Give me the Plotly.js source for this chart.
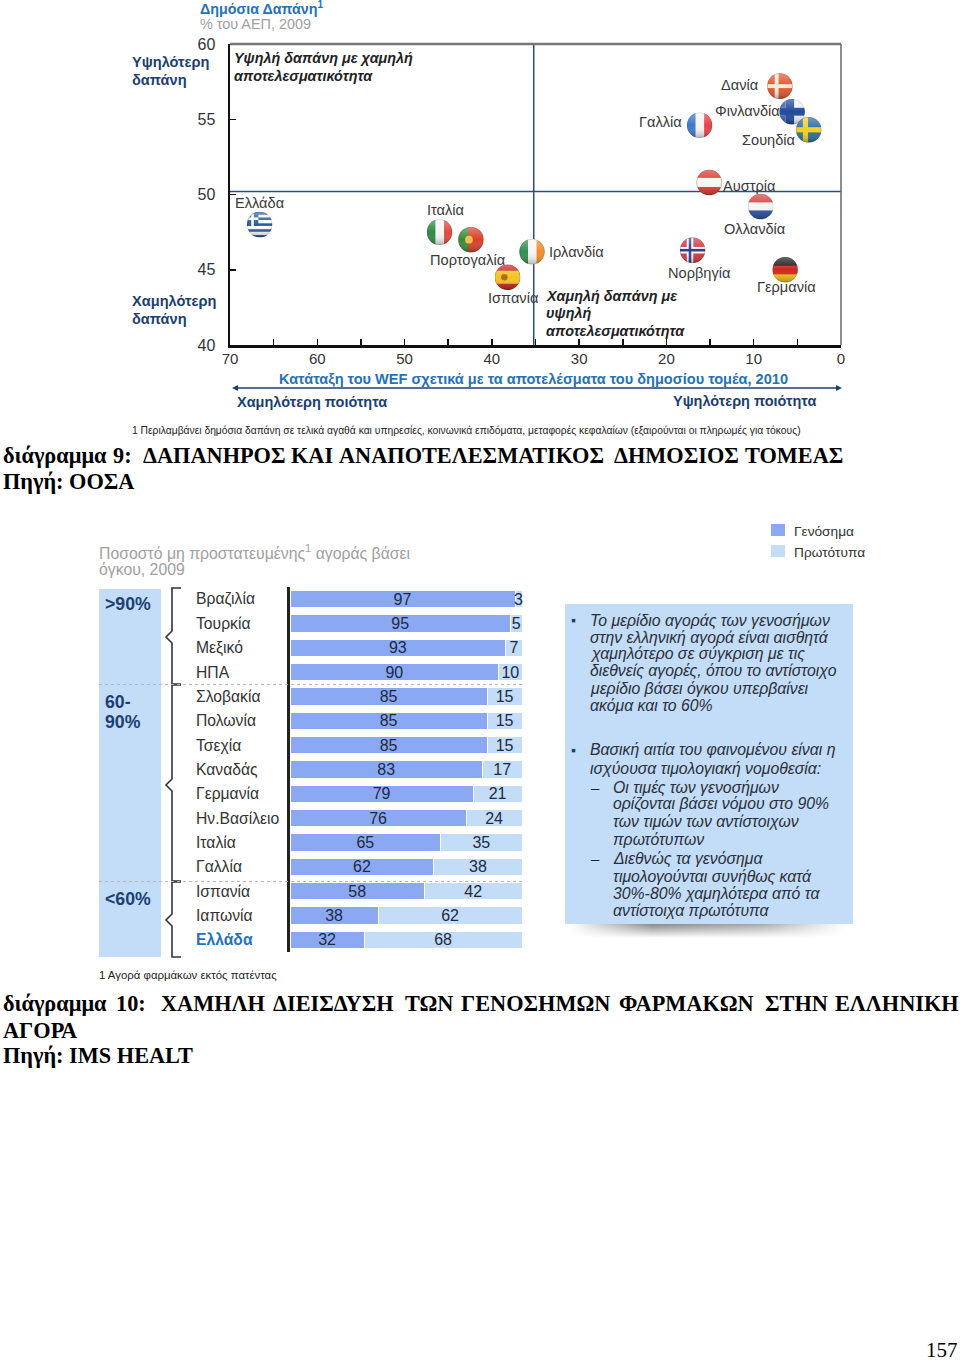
<!DOCTYPE html>
<html><head><meta charset="utf-8">
<script src="https://cdn.plot.ly/plotly-3.0.1.min.js"></script>
<style>html,body{margin:0;padding:0;background:#fff}</style></head>
<body><div id="chart" style="width:960px;height:1362px"></div>
<script>
// ---------- scatter data ----------
const countries = ['Ελλάδα','Ιταλία','Πορτογαλία','Ισπανία','Ιρλανδία','Νορβηγία','Γερμανία','Ολλανδία','Αυστρία','Γαλλία','Δανία','Φινλανδία','Σουηδία'];
const wefRank  = [66.6,46,42.4,38.2,35.4,17,6.4,9.2,15.1,16.2,7,5.6,3.7];
const spending = [48,47.5,47,44.5,46.2,46.3,45,49.2,50.8,54.6,57.2,55.5,54.3];
const baseColors = ['#2f5fa8','#e8e8e8','#3f8a3f','#e8b820','#e8e8e8','#c8383c','#c9261f','#e8e8e8','#e8e8e8','#e8e8e8','#e0502a','#2550a0','#2f6fa8'];
const flagKeys = ['gr','it','pt','es','ie','no','de','nl','at','fr','dk','fi','se'];
const xTickVals = [70,60,50,40,30,20,10,0];
const xTickText = ['70','60','50','40','30','20','10','0'];
const xMinorVals = [65,55,45,35,25,15,5];
const yTickVals = [60,55,50,45,40];
const medianRank = 35.2, medianSpend = 50.2;
// ---------- bar data ----------
const markets = ['Βραζιλία','Τουρκία','Μεξικό','ΗΠΑ','Σλοβακία','Πολωνία','Τσεχία','Καναδάς','Γερμανία','Ην.Βασίλειο','Ιταλία','Γαλλία','Ισπανία','Ιαπωνία','Ελλάδα'];
const generics  = [97,95,93,90,85,85,85,83,79,76,65,62,58,38,32];
const originals = [3,5,7,10,15,15,15,17,21,24,35,38,42,62,68];

const W=960,H=1362;
const px=x=>x/W, py=y=>1-y/H;
const SANS='"Liberation Sans",Arial,sans-serif', SERIF='"Liberation Serif","Times New Roman",serif';
const NAVY='#1c3f73', BLUE='#2472b8', PANEL='#c3dcf7', GEN='#8aa9f2', ORI='#c3dcf7';
const anns=[], shapes=[], images=[];
function T(x,y,text,o={}){anns.push({xref:'paper',yref:'paper',x:px(x),y:py(y),text:text,showarrow:false,xanchor:o.a||'left',yanchor:'middle',align:o.a||'left',
  font:{family:o.f||SANS,size:o.s||14,color:o.c||'#333'},borderpad:0,borderwidth:0,captureevents:false});}
function R(x0,y0,x1,y1,fill){shapes.push({type:'rect',xref:'paper',yref:'paper',x0:px(x0),x1:px(x1),y0:py(y0),y1:py(y1),fillcolor:fill,line:{width:0},layer:'below'});}
function L(x0,y0,x1,y1,c,w,d){shapes.push({type:'line',xref:'paper',yref:'paper',x0:px(x0),x1:px(x1),y0:py(y0),y1:py(y1),line:{color:c,width:w,dash:d||'solid'},layer:'above'});}
function Tri(p,c){shapes.push({type:'path',xref:'paper',yref:'paper',layer:'above',fillcolor:c,line:{width:0},path:'M '+p.map(q=>px(q[0])+' '+py(q[1])).join(' L ')+' Z'});}

// ---------- flags ----------
const flagArt={
 gr:'<rect width="40" height="40" fill="#fff"/><g fill="#2a5aa8"><rect y="0" width="40" height="5"/><rect y="9" width="40" height="4"/><rect y="18" width="40" height="4"/><rect y="27" width="40" height="4"/><rect y="36" width="40" height="4"/><rect width="18" height="22"/></g><rect x="7" width="4" height="22" fill="#fff"/><rect y="9" width="18" height="4" fill="#fff"/>',
 it:'<rect width="14" height="40" fill="#2f8a45"/><rect x="14" width="13" height="40" fill="#f5f5f5"/><rect x="27" width="13" height="40" fill="#e2483d"/>',
 pt:'<rect width="16" height="40" fill="#3a8a3a"/><rect x="16" width="24" height="40" fill="#d8402c"/><circle cx="17" cy="20" r="6" fill="#f0c040"/>',
 es:'<rect width="40" height="40" fill="#c8261c"/><rect y="10" width="40" height="20" fill="#f3c322"/><circle cx="15" cy="20" r="5" fill="#b5651d"/>',
 ie:'<rect width="14" height="40" fill="#2f8f4f"/><rect x="14" width="13" height="40" fill="#f5f5f5"/><rect x="27" width="13" height="40" fill="#f08c2e"/>',
 no:'<rect width="40" height="40" fill="#d03a40"/><rect x="11" width="10" height="40" fill="#fff"/><rect y="15" width="40" height="10" fill="#fff"/><rect x="14" width="4" height="40" fill="#2b3f8c"/><rect y="18" width="40" height="4" fill="#2b3f8c"/>',
 de:'<rect width="40" height="14" fill="#1a1a1a"/><rect y="14" width="40" height="13" fill="#d4261c"/><rect y="27" width="40" height="13" fill="#f2c018"/>',
 nl:'<rect width="40" height="14" fill="#d8403c"/><rect y="14" width="40" height="12" fill="#f5f5f5"/><rect y="26" width="40" height="14" fill="#2a4f9c"/>',
 at:'<rect width="40" height="40" fill="#dc3a32"/><rect y="13" width="40" height="14" fill="#f7f7f7"/>',
 fr:'<rect width="14" height="40" fill="#3d78cc"/><rect x="14" width="13" height="40" fill="#f5f5f5"/><rect x="27" width="13" height="40" fill="#e8404a"/>',
 dk:'<rect width="40" height="40" fill="#e2552e"/><rect x="12" width="6" height="40" fill="#f7ead8"/><rect y="17" width="40" height="6" fill="#f7ead8"/>',
 fi:'<rect width="40" height="40" fill="#eef1f6"/><rect x="10" width="13" height="40" fill="#21489a"/><rect y="14" width="40" height="12" fill="#21489a"/><rect width="10" height="14" fill="#3a5fae"/><rect y="26" width="10" height="14" fill="#3a5fae"/>',
 se:'<rect width="40" height="40" fill="#2c6d9e"/><rect x="11" width="8" height="40" fill="#f2d01e"/><rect y="16" width="40" height="8" fill="#f2d01e"/>'
};
function flagURI(k){
 const s='<svg xmlns="http://www.w3.org/2000/svg" width="80" height="80" viewBox="0 0 40 40"><defs><clipPath id="c"><circle cx="20" cy="20" r="19.5"/></clipPath><linearGradient id="g" x1="0" y1="0" x2="0" y2="1"><stop offset="0" stop-color="#fff" stop-opacity=".35"/><stop offset=".5" stop-color="#fff" stop-opacity="0"/><stop offset="1" stop-color="#000" stop-opacity=".3"/></linearGradient></defs><g clip-path="url(#c)">'+flagArt[k]+'<rect width="40" height="40" fill="url(#g)"/></g><circle cx="20" cy="20" r="19.2" fill="none" stroke="#000" stroke-opacity=".18" stroke-width="1"/></svg>';
 return 'data:image/svg+xml;base64,'+btoa(s);
}
flagKeys.forEach((k,i)=>images.push({source:flagURI(k),xref:'x',yref:'y',x:wefRank[i],y:spending[i],sizex:2.98,sizey:1.74,sizing:'stretch',xanchor:'center',yanchor:'middle',layer:'above'}));

// ---------- top chart text ----------
T(200,8,'<b>Δημόσια Δαπάνη<sup>1</sup></b>',{c:BLUE,s:14.3});
T(200,24,'% του ΑΕΠ, 2009',{c:'#a0a0a0',s:14.4});
T(132,62,'<b>Υψηλότερη</b>',{c:NAVY,s:14.6}); T(132,80,'<b>δαπάνη</b>',{c:NAVY,s:14.6});
T(132,301,'<b>Χαμηλότερη</b>',{c:NAVY,s:14.6}); T(132,319,'<b>δαπάνη</b>',{c:NAVY,s:14.6});
T(234,58,'<b><i>Υψηλή δαπάνη με χαμηλή</i></b>',{c:'#222',s:14.4});
T(234,76,'<b><i>αποτελεσματικότητα</i></b>',{c:'#222',s:14.4});
T(546,296,'<b><i>Χαμηλή δαπάνη με</i></b>',{c:'#222',s:14.4});
T(546,313,'<b><i>υψηλή</i></b>',{c:'#222',s:14.4});
T(546,331,'<b><i>αποτελεσματικότητα</i></b>',{c:'#222',s:14.4});
const labelPos=[[235,203],[427,210],[430,260],[488,298],[549,252],[668,273],[757,287],[724,229],[723,186],[639,122],[721,85],[715,111],[742,140]];
countries.forEach((c,i)=>T(labelPos[i][0],labelPos[i][1],c,{c:'#3a3a3a',s:14.6}));
T(533.5,379,'<b>Κατάταξη του WEF σχετικά με τα αποτελέσματα του δημοσίου τομέα, 2010</b>',{a:'center',c:BLUE,s:14.55});
L(236,388,838,388,NAVY,1.6);
Tri([[232,388],[238,385],[238,391]],NAVY); Tri([[842,388],[836,385],[836,391]],NAVY);
T(237,402,'<b>Χαμηλότερη ποιότητα</b>',{c:NAVY,s:14.5});
T(816,401,'<b>Υψηλότερη ποιότητα</b>',{a:'right',c:NAVY,s:14.5});
T(132,430,'1 Περιλαμβάνει δημόσια δαπάνη σε τελικά αγαθά και υπηρεσίες, κοινωνικά επιδόματα, μεταφορές κεφαλαίων (εξαιρούνται οι πληρωμές για τόκους)',{c:'#222',s:10.3});

// ---------- captions ----------
const capOpt={f:SERIF,c:'#000',s:22.3};
[['διάγραμμα',3],['9:',113],['ΔΑΠΑΝΗΡΟΣ',143],['ΚΑΙ',291],['ΑΝΑΠΟΤΕΛΕΣΜΑΤΙΚΟΣ',339],['ΔΗΜΟΣΙΟΣ',614],['ΤΟΜΕΑΣ',745]].forEach(w=>T(w[1],456,'<b>'+w[0]+'</b>',capOpt));
T(3,482,'<b>Πηγή: ΟΟΣΑ</b>',capOpt);
[['διάγραμμα',3],['10:',116],['ΧΑΜΗΛΗ',161],['ΔΙΕΙΣΔΥΣΗ',273],['ΤΩΝ',405],['ΓΕΝΟΣΗΜΩΝ',461],['ΦΑΡΜΑΚΩΝ',619],['ΣΤΗΝ',765],['ΕΛΛΗΝΙΚΗ',835]].forEach(w=>T(w[1],1004,'<b>'+w[0]+'</b>',capOpt));
T(3,1030,'<b>ΑΓΟΡΑ</b>',capOpt);
T(3,1055,'<b>Πηγή: IMS HEALT</b>',capOpt);
T(958,1349.5,'157',{a:'right',f:SERIF,c:'#000',s:21});

// ---------- bar panel decorations ----------
T(99,552,'Ποσοστό μη προστατευμένης<sup>1</sup> αγοράς βάσει',{c:'#a0a0a0',s:15.8});
T(99,570,'όγκου, 2009',{c:'#a0a0a0',s:15.8});
R(99,589,161,957,PANEL);
T(105,604,'<b>&gt;90%</b>',{c:NAVY,s:17.7});
T(105,702,'<b>60-</b>',{c:NAVY,s:17.7});
T(105,722,'<b>90%</b>',{c:NAVY,s:17.7});
T(105,899,'<b>&lt;60%</b>',{c:NAVY,s:17.7});
function brace(y0,tip,y1){shapes.push({type:'path',xref:'paper',yref:'paper',layer:'above',line:{color:'#333',width:1.6},
 path:`M ${px(181)} ${py(y0)} L ${px(172)} ${py(y0)} L ${px(172)} ${py(tip-6)} L ${px(166)} ${py(tip)} L ${px(172)} ${py(tip+6)} L ${px(172)} ${py(y1)} L ${px(181)} ${py(y1)}`});}
brace(588,637,684); brace(685,785,881); brace(882,920,957);
L(99,684.5,525,684.5,'#b8b8b8',1.2,'dot'); L(99,881.5,525,881.5,'#b8b8b8',1.2,'dot');
markets.forEach((m,i)=>anns.push({xref:'paper',yref:'y2',x:px(196),y:i,text:i===14?'<b>'+m+'</b>':m,showarrow:false,xanchor:'left',yanchor:'middle',borderpad:0,borderwidth:0,
  font:{family:SANS,size:15.7,color:i===14?BLUE:'#333'}}));
T(99,975,'1 Αγορά φαρμάκων εκτός πατέντας',{c:'#222',s:11.4});

// legend + info box
R(771,524,785,536,GEN); R(771,545,785,557,ORI);
T(794,531,'Γενόσημα',{c:'#333',s:13.7}); T(794,552,'Πρωτότυπα',{c:'#333',s:13.7});
R(565,604,853,924,PANEL);
const shadow='<svg xmlns="http://www.w3.org/2000/svg" width="300" height="16"><defs><linearGradient id="a" x1="0" x2="1"><stop offset="0" stop-color="#fff"/><stop offset=".3" stop-color="#888"/><stop offset=".7" stop-color="#aaa"/><stop offset="1" stop-color="#fff"/></linearGradient><linearGradient id="b" x1="0" y1="0" x2="0" y2="1"><stop offset="0" stop-color="#fff" stop-opacity="0"/><stop offset="1" stop-color="#fff"/></linearGradient></defs><rect width="300" height="16" fill="url(#a)"/><rect width="300" height="16" fill="url(#b)"/></svg>';
images.push({source:'data:image/svg+xml;base64,'+btoa(shadow),xref:'paper',yref:'paper',x:px(570),y:py(924),sizex:px(275),sizey:14/H,sizing:'stretch',xanchor:'left',yanchor:'top',layer:'below'});
const infoLines=[
 [590,620,'Το μερίδιο αγοράς των γενοσήμων'],[590,637,'στην ελληνική αγορά είναι αισθητά'],[590,654,'χαμηλότερο σε σύγκριση με τις'],[590,671,'διεθνείς αγορές, όπου το αντίστοιχο'],[590,688,'μερίδιο βάσει όγκου υπερβαίνει'],[590,705,'ακόμα και το 60%'],
 [590,750,'Βασική αιτία του φαινομένου είναι η'],[590,768,'ισχύουσα τιμολογιακή νομοθεσία:'],
 [613,787,'Οι τιμές των γενοσήμων'],[613,804,'ορίζονται βάσει νόμου στο 90%'],[613,821,'των τιμών των αντίστοιχων'],[613,839,'πρωτότυπων'],
 [613,858,'Διεθνώς τα γενόσημα'],[613,876,'τιμολογούνται συνήθως κατά'],[613,893,'30%-80% χαμηλότερα από τα'],[613,910,'αντίστοιχα πρωτότυπα']];
infoLines.forEach(l=>T(l[0],l[1],'<i>'+l[2]+'</i>',{c:'#2a2f38',s:15.8}));
T(571,620,'▪',{c:NAVY,s:14}); T(571,750,'▪',{c:NAVY,s:14});
T(591,787,'–',{c:'#222',s:15}); T(591,858,'–',{c:'#222',s:15});

// frame of scatter + reference lines
shapes.push({type:'line',xref:'x',yref:'y',x0:70,x1:0,y0:medianSpend,y1:medianSpend,line:{color:'#2a4f85',width:1.4},layer:'below'});
shapes.push({type:'line',xref:'x',yref:'y',x0:medianRank,x1:medianRank,y0:40,y1:60,line:{color:'#1f3f80',width:1.4},layer:'below'});
L(230,44,841,44,'#777',2.5); L(841,44,841,345,'#666',1.5);

const traces=[
 {type:'scatter',mode:'markers',x:wefRank,y:spending,xaxis:'x',yaxis:'y',text:countries,showlegend:false,hoverinfo:'text',cliponaxis:false,
  marker:{size:24,color:baseColors,line:{width:0}}},
 {type:'bar',orientation:'h',name:'Γενόσημα',y:markets.map((m,i)=>i),x:generics,xaxis:'x2',yaxis:'y2',marker:{color:GEN,line:{color:'#fff',width:1}},
  text:generics.map(String),textposition:'inside',insidetextanchor:'middle',textangle:0,constraintext:'none',cliponaxis:false,textfont:{family:SANS,size:16,color:'#1e2a40'},showlegend:false},
 {type:'bar',orientation:'h',name:'Πρωτότυπα',y:markets.map((m,i)=>i),x:originals,xaxis:'x2',yaxis:'y2',marker:{color:ORI,line:{color:'#fff',width:1}},
  text:originals.map(String),textposition:'inside',insidetextanchor:'middle',textangle:0,constraintext:'none',cliponaxis:false,textfont:{family:SANS,size:16,color:'#1e2a40'},showlegend:false}
];
const layout={width:W,height:H,margin:{l:0,r:0,t:0,b:0,pad:0},paper_bgcolor:'#fff',plot_bgcolor:'rgba(0,0,0,0)',showlegend:false,barmode:'stack',bargap:0.3,
 annotations:anns,shapes:shapes,images:images,
 xaxis:{domain:[px(230),px(841)],range:[70,0],anchor:'y',tickmode:'array',tickvals:xTickVals,ticktext:xTickText,ticks:'inside',ticklen:6,tickwidth:1.5,tickcolor:'#111',ticklabelstandoff:-2,
   minor:{tickmode:'array',tickvals:xMinorVals,ticks:'inside',ticklen:6,tickwidth:1.5,tickcolor:'#111',showgrid:false},
   showline:true,linecolor:'#111',linewidth:2.5,showgrid:false,zeroline:false,tickfont:{family:SANS,size:15,color:'#333'}},
 yaxis:{domain:[py(345),py(44)],range:[40,60],anchor:'x',tickmode:'array',tickvals:yTickVals,ticktext:yTickVals.map(String),ticks:'inside',ticklen:6,tickwidth:1.5,tickcolor:'#111',ticklabelstandoff:9,
   showline:true,linecolor:'#111',linewidth:2.5,showgrid:false,zeroline:false,tickfont:{family:SANS,size:16,color:'#333'}},
 xaxis2:{domain:[px(290),px(522)],range:[0,100],anchor:'y2',visible:false,fixedrange:true},
 yaxis2:{domain:[py(952),py(587)],range:[14.5,-0.5],anchor:'x2',showticklabels:false,ticks:'',showgrid:false,zeroline:false,showline:true,linecolor:'#222',linewidth:3,tickmode:'array',tickvals:[]}
};
Plotly.newPlot('chart',traces,layout,{displayModeBar:false,staticPlot:true});
</script></body></html>
